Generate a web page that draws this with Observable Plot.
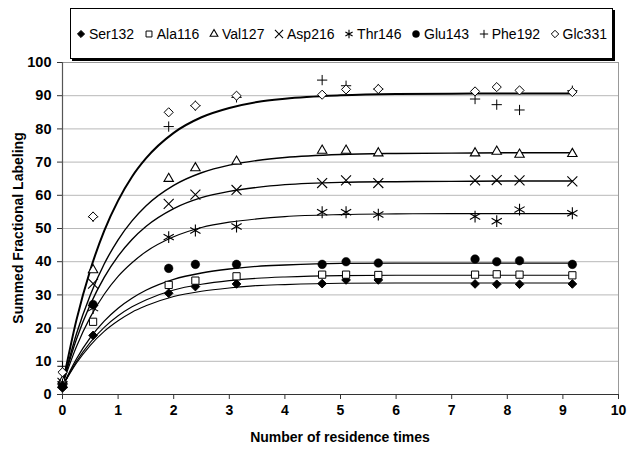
<!DOCTYPE html>
<html>
<head>
<meta charset="utf-8">
<script src="https://cdn.jsdelivr.net/npm/d3@7"></script>
<script src="https://cdn.jsdelivr.net/npm/@observablehq/plot@0.6"></script>
<style>
  body { margin: 0; background: #fff; }
  #wrap { position: relative; width: 632px; height: 451px; font-family: "Liberation Sans", Arial, sans-serif; }
  #legend {
    position: absolute; left: 70px; top: 8px; width: 531px; height: 49px;
    border: 1px solid #000; box-shadow: 2px 2px 0 #000; background: #fff;
    display: flex; align-items: center; justify-content: space-between;
    padding: 0 5px; box-sizing: content-box; font-size: 14px; color: #000;
  }
  #legend .item { display: flex; align-items: center; white-space: nowrap; }
  #legend svg { margin-right: 3px; overflow: visible; }
</style>
</head>
<body>
<div id="wrap"><div id="legend"></div></div>
<script>
// ---- data ----
const times = [0, 0.55, 1.91, 2.39, 3.13, 4.67, 5.10, 5.68, 7.42, 7.81, 8.22, 9.17];
const seriesNames = ["Ser132", "Ala116", "Val127", "Asp216", "Thr146", "Glu143", "Phe192", "Glc331"];
const ser132 = [2.0, 17.8, 30.5, 32.5, 33.3, 33.4, 34.5, 34.5, 33.3, 33.2, 33.2, 33.3];
const ala116 = [3.0, 21.9, 33.0, 34.3, 35.6, 36.1, 36.1, 36.0, 36.1, 36.2, 36.1, 35.9];
const val127 = [4.0, 37.5, 65.0, 68.2, 70.2, 73.5, 73.5, 72.7, 72.7, 73.2, 72.3, 72.5];
const asp216 = [3.5, 33.4, 57.4, 60.2, 61.6, 63.7, 64.5, 63.7, 64.5, 64.6, 64.5, 64.2];
const thr146 = [3.0, 26.0, 47.4, 49.4, 50.6, 54.9, 54.9, 54.2, 53.6, 52.2, 55.7, 54.6];
const glu143 = [2.5, 27.1, 38.0, 39.2, 39.2, 39.2, 40.0, 39.6, 40.8, 40.0, 40.3, 39.2];
const phe192 = [8.5, 53.5, 80.7, 87.0, 89.5, 94.7, 93.0, 92.0, 89.0, 87.3, 85.7, 91.5];
const glc331 = [6.7, 53.6, 85.0, 87.0, 90.0, 90.3, 91.9, 92.0, 91.3, 92.6, 91.6, 91.1];

// fitted curves at these times
const fitTimes = [0, 0.25, 0.5, 0.75, 1, 1.25, 1.5, 2, 2.5, 3, 3.5, 4, 5, 6, 7, 8, 9.17];
const fitSer132 = [2.5, 9.4, 14.8, 19.0, 22.2, 24.8, 26.7, 29.5, 31.1, 32.1, 32.8, 33.1, 33.5, 33.6, 33.6, 33.6, 33.6];
const fitAla116 = [2.5, 9.9, 15.7, 20.2, 23.7, 26.4, 28.5, 31.5, 33.2, 34.3, 35.0, 35.4, 35.8, 35.9, 35.9, 35.9, 35.9];
const fitGlu143 = [2.5, 10.7, 17.1, 22.1, 26.0, 29.0, 31.4, 34.7, 36.6, 37.8, 38.6, 39.0, 39.5, 39.6, 39.6, 39.6, 39.6];
const fitThr146 = [3.0, 14.4, 23.3, 30.2, 35.6, 39.7, 43.0, 47.5, 50.3, 51.9, 52.9, 53.6, 54.2, 54.4, 54.5, 54.5, 54.5];
const fitAsp216 = [3.0, 16.6, 27.1, 35.3, 41.7, 46.7, 50.6, 56.0, 59.3, 61.2, 62.4, 63.2, 63.9, 64.1, 64.2, 64.3, 64.3];
const fitVal127 = [3.0, 18.2, 30.0, 39.3, 46.6, 52.3, 56.8, 63.0, 66.8, 69.1, 70.5, 71.4, 72.3, 72.6, 72.7, 72.8, 72.8];
const fitGlc331 = [3.0, 22.4, 37.5, 49.3, 58.4, 65.6, 71.1, 78.8, 83.5, 86.3, 88.1, 89.1, 90.1, 90.5, 90.6, 90.7, 90.7];

const xTicks = [0, 1, 2, 3, 4, 5, 6, 7, 8, 9, 10];
const yTicks = [0, 10, 20, 30, 40, 50, 60, 70, 80, 90, 100];
const xTitle = "Number of residence times";
const yTitle = "Summed Fractional Labeling";

// ---- styling ----
const values = [ser132, ala116, val127, asp216, thr146, glu143, phe192, glc331];
const styles = [
  {symbol: "diamond2", r: 3.9, fill: "#000", stroke: "#000", sw: 1},
  {symbol: "square2", r: 4.6, fill: "#fff", stroke: "#000", sw: 1},
  {symbol: "triangle2", r: 4.5, fill: "#fff", stroke: "#000", sw: 1.1},
  {symbol: "times", r: 4.6, fill: "none", stroke: "#000", sw: 1.1},
  {symbol: "asterisk", r: 5.6, fill: "none", stroke: "#000", sw: 1.1},
  {symbol: "circle", r: 4.3, fill: "#000", stroke: "#000", sw: 0.5},
  {symbol: "plus", r: 3.4, fill: "none", stroke: "#000", sw: 1},
  {symbol: "diamond2", r: 4.1, fill: "#fff", stroke: "#000", sw: 1}
];
const fits = [
  {v: fitSer132, w: 1.1}, {v: fitAla116, w: 1.1}, {v: fitGlu143, w: 1.3},
  {v: fitThr146, w: 1.2}, {v: fitAsp216, w: 1.4}, {v: fitVal127, w: 1.4}, {v: fitGlc331, w: 2}
];

const fontFam = '"Liberation Sans", Arial, sans-serif';

const curveMarks = fits.map(f =>
  Plot.line(fitTimes.map((t, i) => ({t, v: f.v[i]})), {
    x: "t", y: "v", curve: "monotone-x", stroke: "#000", strokeWidth: f.w
  })
);

const dotMarks = seriesNames.map((name, s) =>
  Plot.dot(times.map((t, i) => ({t, v: values[s][i], name})), {
    x: "t", y: "v", symbol: () => styles[s].symbol, r: styles[s].r,
    fill: styles[s].fill, stroke: styles[s].stroke, strokeWidth: styles[s].sw
  })
);

const W = 632, H = 451, mL = 62, mR = 14, mT = 62, mB = 57;

const chart = Plot.plot({
  width: W,
  height: H,
  marginLeft: mL,
  marginRight: mR,
  marginTop: mT,
  marginBottom: mB,
  style: {fontFamily: fontFam, background: "#fff", overflow: "visible"},
  x: {domain: [0, 10]},
  y: {domain: [0, 100]},
  symbol: {type: "identity"},
  marks: [
    Plot.gridY(yTicks, {stroke: "#b8b8b8", strokeOpacity: 1, strokeWidth: 1}),
    Plot.ruleX([10], {stroke: "#999", strokeWidth: 1}),
    Plot.ruleY([100], {stroke: "#999", strokeWidth: 1}),
    Plot.ruleX([0], {stroke: "#555", strokeWidth: 1.2}),
    Plot.ruleY([0], {stroke: "#333", strokeWidth: 1.2}),
    Plot.axisX(xTicks, {tickSize: 5, tickPadding: 6, fontSize: 14, fontWeight: "bold", label: null, stroke: "#333"}),
    Plot.axisY(yTicks, {tickSize: 5, tickPadding: 6, fontSize: 14.5, fontWeight: "bold", label: null, stroke: "#333"}),
    ...curveMarks,
    ...dotMarks
  ]
});

// axis titles
const svgSel = d3.select(chart);
svgSel.append("text")
  .attr("transform", `translate(${(mL + W - mR) / 2},${H - mB + 48})`)
  .attr("text-anchor", "middle")
  .attr("font-family", fontFam).attr("font-size", 14).attr("font-weight", "bold").attr("fill", "#000")
  .text(xTitle);
svgSel.append("text")
  .attr("transform", `translate(${23},${(mT + H - mB) / 2}) rotate(-90)`)
  .attr("text-anchor", "middle")
  .attr("font-family", fontFam).attr("font-size", 14).attr("font-weight", "bold").attr("fill", "#000")
  .text(yTitle);

const wrap = document.getElementById("wrap");
wrap.insertBefore(chart, wrap.firstChild);
chart.style.position = "absolute";
chart.style.left = "0";
chart.style.top = "0";

// ---- legend ----
const symbolTypes = {
  diamond2: d3.symbolDiamond2, square2: d3.symbolSquare2, triangle2: d3.symbolTriangle2,
  times: d3.symbolTimes, asterisk: d3.symbolAsterisk, circle: d3.symbolCircle, plus: d3.symbolPlus
};
const legend = d3.select("#legend");
seriesNames.forEach((name, s) => {
  const st = styles[s];
  const item = legend.append("div").attr("class", "item");
  const svg = item.append("svg").attr("width", 10).attr("height", 10).attr("viewBox", "-5 -5 10 10");
  const rr = st.r * (st.symbol === "asterisk" ? 0.7 : 0.82);
  svg.append("path")
    .attr("d", d3.symbol(symbolTypes[st.symbol], Math.PI * rr * rr)())
    .attr("fill", st.fill).attr("stroke", st.stroke).attr("stroke-width", st.sw);
  item.append("span").text(name);
});
</script>
</body>
</html>
